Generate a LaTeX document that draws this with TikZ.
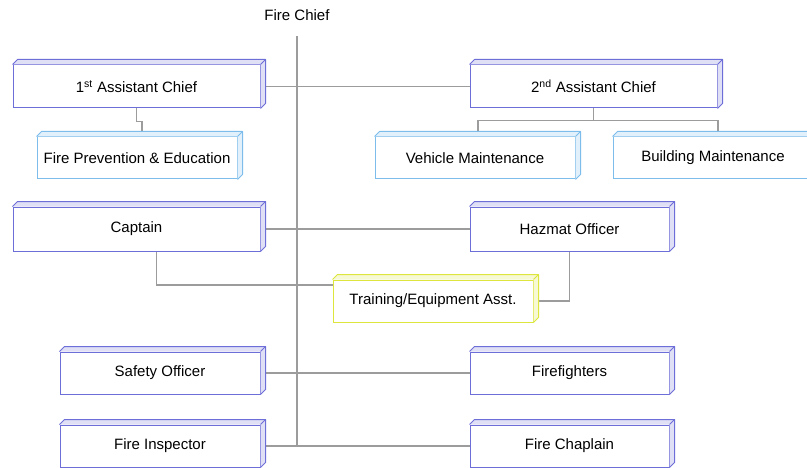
\documentclass[tikz,border=0pt]{standalone}
\usepackage{fontspec}
\setmainfont{Liberation Sans}
\usetikzlibrary{positioning,calc,backgrounds}

\definecolor{boxblue}{HTML}{6E6ED8}
\definecolor{subblue}{HTML}{7DBDEB}
\definecolor{trainyellow}{HTML}{DCE63C}
\definecolor{linegray}{HTML}{9C9C9C}

\tikzset{
  post/.style={draw=#1, fill=white, line width=1pt, inner sep=0pt, minimum width=200pt, minimum height=42pt},
  chiefpost/.style={post=boxblue, minimum width=247pt, minimum height=43pt},
  link/.style={draw=linegray, line width=1.6pt},
}

% top and right faces of a box
\newcommand{\slab}[2]{%
  \fill[#2!22] (#1.north west) -- ++(5pt,5pt) -- ([shift={(5pt,5pt)}]#1.north east)
    -- ([shift={(5pt,5pt)}]#1.south east) -- (#1.south east) -- (#1.north east) -- cycle;
  \draw[#2, line width=1pt, line join=round] (#1.north west) -- ++(5pt,5pt)
    -- ([shift={(5pt,5pt)}]#1.north east) -- ([shift={(5pt,5pt)}]#1.south east) -- (#1.south east);
  \draw[#2, line width=1pt] (#1.north east) -- ++(5pt,5pt);
}

\begin{document}
\begin{tikzpicture}[x=1pt, y=1pt, font=\fontsize{15}{18}\selectfont]
    \useasboundingbox (0,0) rectangle (807,467);
    \clip (0,0) rectangle (807,467);

    % Head of the chart
    \node (chief) at (297,452) {Fire Chief};

    % Draw boxes
    \node[chiefpost] (ac1) at (136.5,380.5) {1\textsuperscript{st} Assistant Chief};
    \node[chiefpost] (ac2) at (593.5,380.5) {2\textsuperscript{nd} Assistant Chief};
    \node[post=subblue] (fpe) at (137,309) {Fire Prevention \& Education};
    \node[post=subblue] (veh) at (475,309) {Vehicle Maintenance};
    \node[post=subblue] (bld) at (713,309) {Building Maintenance};
    \node[chiefpost, minimum height=44pt] (cap) at (136.5,238) {Captain};
    \node[post=boxblue, minimum width=199pt, minimum height=44pt] (haz) at (569.5,238) {Hazmat Officer};
    \node[post=trainyellow] (trn) at (433,166) {Training/Equipment Asst.};
    \node[post=boxblue] (saf) at (160,94) {Safety Officer};
    \node[post=boxblue, minimum width=199pt] (ffi) at (569.5,94) {Firefighters};
    \node[post=boxblue] (ins) at (160,21) {Fire Inspector};
    \node[post=boxblue, minimum width=199pt] (chp) at (569.5,21) {Fire Chaplain};

    % Draw box depth
    \foreach \n/\c in {ac1/boxblue, ac2/boxblue, fpe/subblue, veh/subblue, bld/subblue,
                       cap/boxblue, haz/boxblue, trn/trainyellow, saf/boxblue,
                       ffi/boxblue, ins/boxblue, chp/boxblue}
        {\slab{\n}{\c}}

    % Draw connectors
    \begin{pgfonlayer}{background}
        \draw[link] ([yshift=-12pt]chief.south) -- (chief.south |- ins.east);
        \draw[link] (ac1.east) -- (ac2.west);
        \draw[link] (ac1.south) -- ++(0,-13) -| ([shift={(5pt,5pt)}]fpe.north);
        \draw[link] (ac2.south) -- ++(0,-12) coordinate (split);
        \draw[link] ([xshift=3pt]split -| veh.north) -- ([xshift=5pt]split -| bld.north) -- ([shift={(5pt,5pt)}]bld.north);
        \draw[link] ([xshift=3pt]split -| veh.north) -- ([shift={(3pt,5pt)}]veh.north);
        \draw[link] (cap.east) -- (haz.west);
        \draw[link] ([xshift=20pt]cap.south) |- ([yshift=16pt]trn.west);
        \draw[link] (haz.south) |- (trn.east);
        \draw[link] (saf.east) -- (ffi.west);
        \draw[link] (ins.east) -- (chp.west);
    \end{pgfonlayer}
\end{tikzpicture}
\end{document}
